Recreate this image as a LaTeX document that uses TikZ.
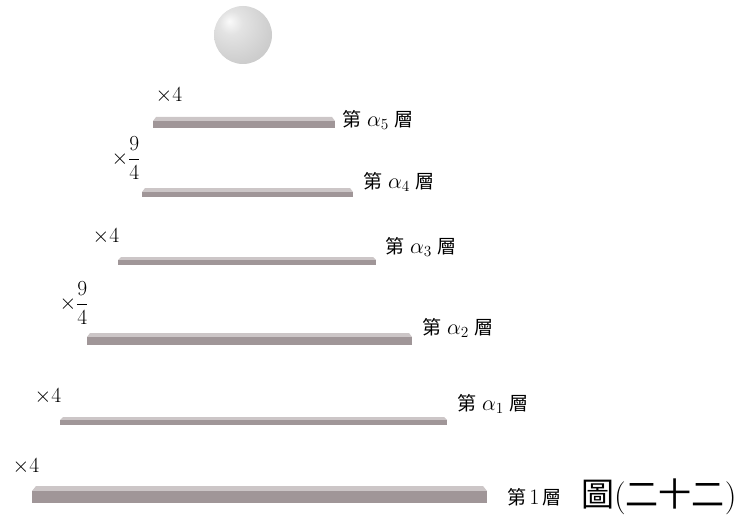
\RequirePackage{fix-cm}
\documentclass[tikz,border=0pt]{standalone}
\usepackage{amsmath}
\usepackage{fontspec}
\newfontfamily\cjk{Noto Sans CJK TC}
\usepackage{tikz}

\definecolor{slabfront}{RGB}{160,150,152}
\definecolor{slabtop}{RGB}{204,198,199}
\pgfdeclareradialshading{pearl}{\pgfpoint{-12bp}{12bp}}{%
  color(0bp)=(gray!4); color(10bp)=(gray!22); color(30bp)=(gray!38);
  color(55bp)=(gray!55); color(75bp)=(gray!72)}

% alpha index of a layer, set a little larger than the CJK text
\newcommand\lay[1]{{\fontsize{22}{26}\selectfont$\alpha_{#1}$}}

\tikzset{
  factor/.style={inner sep=0pt,font=\fontsize{21.5}{26}\selectfont},
  layer/.style={anchor=west,inner sep=0pt,font=\cjk\fontsize{19}{23}\selectfont},
  slabtop/.style={fill=slabtop},
  slabfront/.style={fill=slabfront},
}

\begin{document}
\begin{tikzpicture}[x=1pt,y=-1pt,line join=round]
  \useasboundingbox (0,0) rectangle (737,519);

  % falling ball
  \node[circle,minimum size=58pt,inner sep=0pt,shade,shading=pearl] (ball) at (243,35) {};

  % slabs: top face, then front face
  \fill[slabtop] (156,117) -- (332,117) -- (335,121) -- (153,121) -- cycle;
  \fill[slabfront] (153,121) rectangle (335,128);
  \fill[slabtop] (145,188) -- (350,188) -- (353,192) -- (142,192) -- cycle;
  \fill[slabfront] (142,192) rectangle (353,197);
  \fill[slabtop] (121,257) -- (373,257) -- (376,260) -- (118,260) -- cycle;
  \fill[slabfront] (118,260) rectangle (376,265);
  \fill[slabtop] (90,333) -- (409,333) -- (412,337) -- (87,337) -- cycle;
  \fill[slabfront] (87,337) rectangle (412,345);
  \fill[slabtop] (63,417) -- (444,417) -- (447,420) -- (60,420) -- cycle;
  \fill[slabfront] (60,420) rectangle (447,425);
  \fill[slabtop] (36,486) -- (483,486) -- (487,491) -- (32,491) -- cycle;
  \fill[slabfront] (32,491) rectangle (487,503);

  % factors between the layers
  \node[factor] (f5) at (169,95) {$\times4$};
  \node[factor] (f4) at (126,158) {$\times\dfrac{9}{4}$};
  \node[factor] (f3) at (106,236) {$\times4$};
  \node[factor] (f2) at (74,303) {$\times\dfrac{9}{4}$};
  \node[factor] (f1) at (48,396) {$\times4$};
  \node[factor] (f0) at (26,466) {$\times4$};

  % layer names
  \node[layer] (l5) at (342,120) {第\hspace{6pt}\lay{5}\hspace{6pt}層};
  \node[layer] (l4) at (363,182) {第\hspace{6pt}\lay{4}\hspace{6pt}層};
  \node[layer] (l3) at (385,247) {第\hspace{6pt}\lay{3}\hspace{6pt}層};
  \node[layer] (l2) at (422,328) {第\hspace{6pt}\lay{2}\hspace{6pt}層};
  \node[layer] (l1) at (457,404) {第\hspace{6pt}\lay{1}\hspace{6pt}層};
  \node[layer] (l0) at (507,497) {第\,{\rmfamily\fontsize{22}{26}\selectfont 1}\,層};

  \node[anchor=west,inner sep=0pt,font=\fontsize{33}{37}\selectfont] (fig) at (581,497)
    {{\cjk 圖}({\cjk 二十二})};
\end{tikzpicture}
\end{document}
